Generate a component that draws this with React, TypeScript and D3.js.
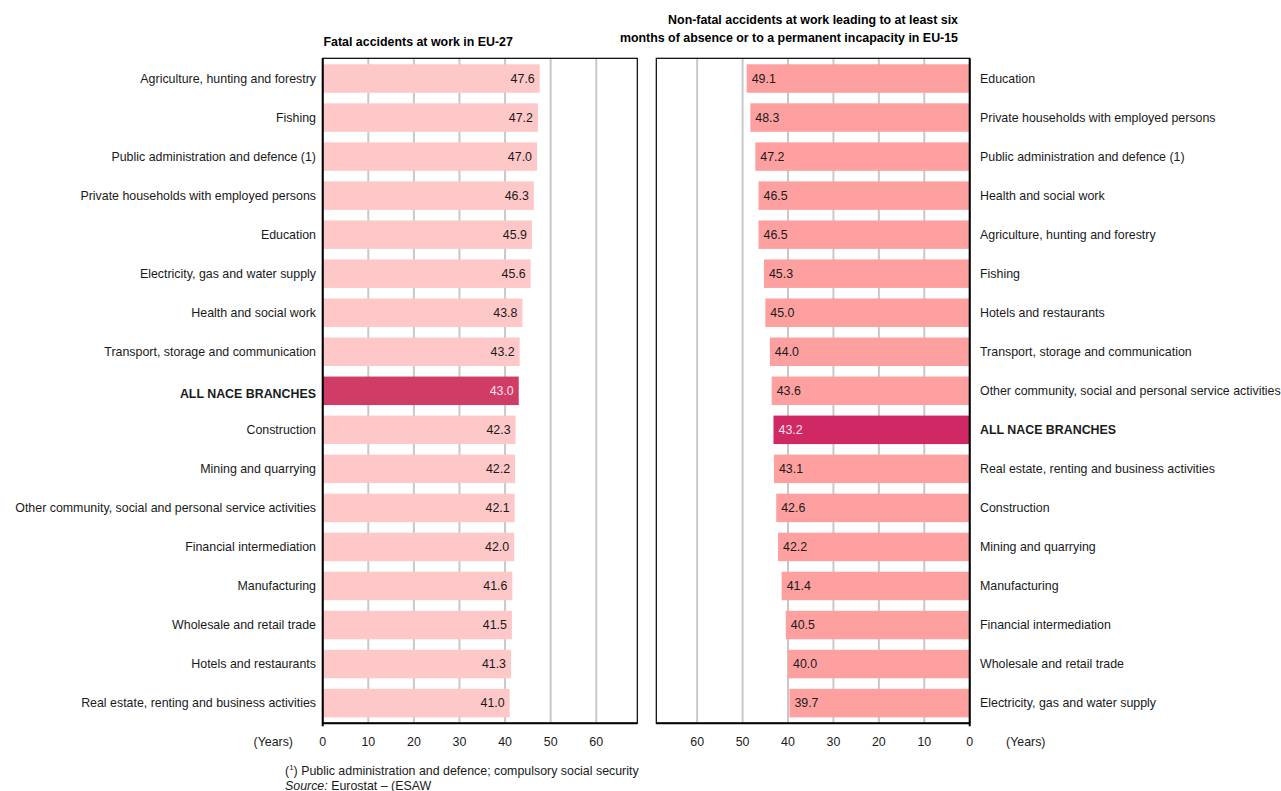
import React from "react";
import * as d3 from "d3";

// Fatal accidents at work in EU-27: average age of victims by NACE branch
const fatalCategories = [
  "Agriculture, hunting and forestry",
  "Fishing",
  "Public administration and defence (1)",
  "Private households with employed persons",
  "Education",
  "Electricity, gas and water supply",
  "Health and social work",
  "Transport, storage and communication",
  "ALL NACE BRANCHES",
  "Construction",
  "Mining and quarrying",
  "Other community, social and personal service activities",
  "Financial intermediation",
  "Manufacturing",
  "Wholesale and retail trade",
  "Hotels and restaurants",
  "Real estate, renting and business activities",
];
const fatalValues = [47.6, 47.2, 47.0, 46.3, 45.9, 45.6, 43.8, 43.2, 43.0, 42.3, 42.2, 42.1, 42.0, 41.6, 41.5, 41.3, 41.0];

// Serious non-fatal accidents in EU-15
const nonFatalCategories = [
  "Education",
  "Private households with employed persons",
  "Public administration and defence (1)",
  "Health and social work",
  "Agriculture, hunting and forestry",
  "Fishing",
  "Hotels and restaurants",
  "Transport, storage and communication",
  "Other community, social and personal service activities",
  "ALL NACE BRANCHES",
  "Real estate, renting and business activities",
  "Construction",
  "Mining and quarrying",
  "Manufacturing",
  "Financial intermediation",
  "Wholesale and retail trade",
  "Electricity, gas and water supply",
];
const nonFatalValues = [49.1, 48.3, 47.2, 46.5, 46.5, 45.3, 45.0, 44.0, 43.6, 43.2, 43.1, 42.6, 42.2, 41.4, 40.5, 40.0, 39.7];

const tickValues = [0, 10, 20, 30, 40, 50, 60];
const TOTAL = "ALL NACE BRANCHES";

const FONT = "'Liberation Sans', Arial, Helvetica, sans-serif";
const FS = 12.4;

export default function App() {
  const width = 1281;
  const height = 791;
  const top = 58.3;
  const bottom = 723.3;

  const yScale = (cats: string[]) =>
    d3.scaleBand<string>().domain(cats).range([top, bottom]).paddingInner(0.27).paddingOuter(0.153);

  const yL = yScale(fatalCategories);
  const yR = yScale(nonFatalCategories);

  const xL = d3.scaleLinear().domain([0, 69]).range([322.7, 637.3]);
  const xR = d3.scaleLinear().domain([0, 69]).range([969.7, 656.3]);

  const gridColor = "#c8c8c8";

  return (
    <svg width={width} height={height} style={{ display: "block", position: "absolute", left: 0, top: 0 }} fontFamily={FONT}>
      <rect width={width} height={height} fill="#fff" />

      {/* Titles */}
      <text x={323.5} y={45.5} fontSize={FS} fontWeight="bold" fill="#000">
        Fatal accidents at work in EU-27
      </text>
      <text x={958} y={24} fontSize={FS} fontWeight="bold" fill="#000" textAnchor="end">
        Non-fatal accidents at work leading to at least six
      </text>
      <text x={958} y={42} fontSize={FS} fontWeight="bold" fill="#000" textAnchor="end">
        months of absence or to a permanent incapacity in EU-15
      </text>

      {/* Left panel */}
      <g>
        {tickValues.slice(1).map((t) => (
          <line key={t} x1={xL(t)} x2={xL(t)} y1={top} y2={bottom} stroke={gridColor} strokeWidth={2} />
        ))}
        {fatalCategories.map((c, i) => {
          const y0 = yL(c)!;
          const isTotal = c === TOTAL;
          return (
            <g key={c}>
              <rect
                x={xL(0)}
                y={y0}
                width={xL(fatalValues[i]) - xL(0)}
                height={yL.bandwidth()}
                fill={isTotal ? "#d03c66" : "#ffc8c8"}
              />
              <text
                x={xL(fatalValues[i]) - 5}
                y={y0 + yL.bandwidth() / 2}
                dy="0.35em"
                textAnchor="end"
                fontSize={FS}
                fill={isTotal ? "#ffe4ea" : "#1a1a1a"}
              >
                {fatalValues[i].toFixed(1)}
              </text>
              <text
                x={316}
                y={y0 + yL.bandwidth() / 2 + (isTotal ? 3 : 0)}
                dy="0.35em"
                textAnchor="end"
                fontSize={FS}
                fontWeight={isTotal ? "bold" : "normal"}
                fill="#1a1a1a"
              >
                {c}
              </text>
            </g>
          );
        })}
        <rect x={xL(0)} y={top} width={xL(69) - xL(0)} height={bottom - top} fill="none" stroke="#000" strokeWidth={1.2} />
        <line x1={xL(0)} x2={xL(0)} y1={top} y2={bottom + 3} stroke="#000" strokeWidth={2} />
        <line x1={xL(0)} x2={xL(69)} y1={bottom} y2={bottom} stroke="#000" strokeWidth={2} />
        {tickValues.map((t) => (
          <text key={t} x={xL(t)} y={742} dy="0.35em" textAnchor="middle" fontSize={FS} fill="#1a1a1a">
            {t}
          </text>
        ))}
        <text x={293} y={742} dy="0.35em" textAnchor="end" fontSize={FS} fill="#1a1a1a">
          (Years)
        </text>
      </g>

      {/* Right panel */}
      <g>
        {tickValues.slice(1).map((t) => (
          <line key={t} x1={xR(t)} x2={xR(t)} y1={top} y2={bottom} stroke={gridColor} strokeWidth={2} />
        ))}
        {nonFatalCategories.map((c, i) => {
          const y0 = yR(c)!;
          const isTotal = c === TOTAL;
          return (
            <g key={c}>
              <rect
                x={xR(nonFatalValues[i])}
                y={y0}
                width={xR(0) - xR(nonFatalValues[i])}
                height={yR.bandwidth()}
                fill={isTotal ? "#d02864" : "#ffa0a0"}
              />
              <text
                x={xR(nonFatalValues[i]) + 5}
                y={y0 + yR.bandwidth() / 2}
                dy="0.35em"
                textAnchor="start"
                fontSize={FS}
                fill={isTotal ? "#ffe4ea" : "#1a1a1a"}
              >
                {nonFatalValues[i].toFixed(1)}
              </text>
              <text
                x={980}
                y={y0 + yR.bandwidth() / 2}
                dy="0.35em"
                textAnchor="start"
                fontSize={FS}
                fontWeight={isTotal ? "bold" : "normal"}
                fill="#1a1a1a"
              >
                {c}
              </text>
            </g>
          );
        })}
        <rect x={xR(69)} y={top} width={xR(0) - xR(69)} height={bottom - top} fill="none" stroke="#000" strokeWidth={1.2} />
        <line x1={xR(0)} x2={xR(0)} y1={top} y2={bottom + 3} stroke="#000" strokeWidth={2} />
        <line x1={xR(69)} x2={xR(0)} y1={bottom} y2={bottom} stroke="#000" strokeWidth={2} />
        {tickValues.map((t) => (
          <text key={t} x={xR(t)} y={742} dy="0.35em" textAnchor="middle" fontSize={FS} fill="#1a1a1a">
            {t}
          </text>
        ))}
        <text x={1006} y={742} dy="0.35em" textAnchor="start" fontSize={FS} fill="#1a1a1a">
          (Years)
        </text>
      </g>

      {/* Footnotes */}
      <text x={285} y={775} fontSize={FS} fill="#1a1a1a">
        (<tspan fontSize={8} dy={-5}>1</tspan>
        <tspan dy={5}>) Public administration and defence; compulsory social security</tspan>
      </text>
      <text x={285} y={789.5} fontSize={FS} fill="#1a1a1a">
        <tspan fontStyle="italic">Source:</tspan>
        <tspan>{"  Eurostat – (ESAW"}</tspan>
      </text>
    </svg>
  );
}
